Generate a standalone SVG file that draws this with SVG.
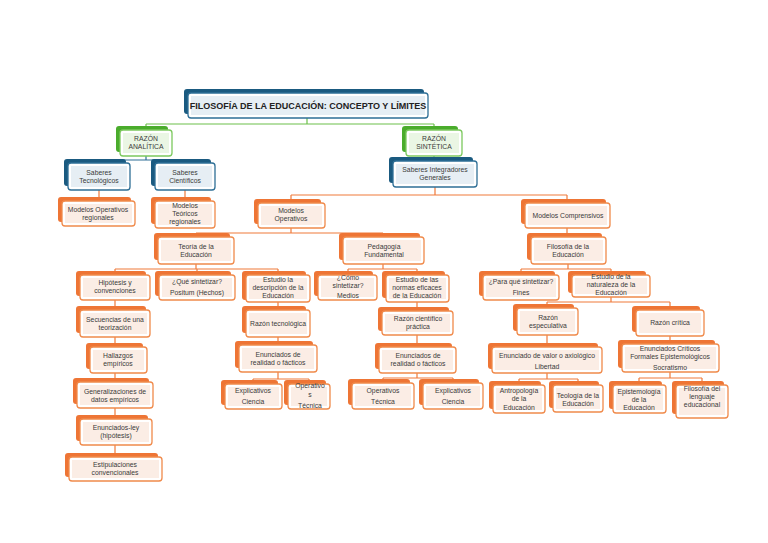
<svg xmlns="http://www.w3.org/2000/svg" width="768" height="543" viewBox="0 0 768 543">
<style>
text{font-family:"Liberation Sans",Arial,sans-serif;font-size:6.8px;fill:#3a3a3a;text-anchor:middle}
.t{font-size:9px;font-weight:bold;fill:#222}
.o .b{fill:#ee7535}.o .f{fill:#fff;stroke:#f08a4b;stroke-width:1.3}.o .i{fill:#fbede5}
.g .b{fill:#4aac2c}.g .f{fill:#fff;stroke:#7cc95e;stroke-width:1.3}.g .i{fill:#eaf6e4}
.u .b{fill:#1a5a80}.u .f{fill:#fff;stroke:#2e6f96;stroke-width:1.3}.u .i{fill:#e6eef4}
.c path{fill:none;stroke-width:1.2}
</style>
<rect width="768" height="543" fill="#fff"/>
<g id="connectors" class="c">
<path stroke="#6cc04a" d="M307 118V124M146 124H434M146 124V130M434 124V130"/>
<path stroke="#2e6f96" d="M146 156V160M99 160H185M99 160V163M185 160V163M434 156V161"/>
<path stroke="#f07a3a" d="M99 190V201M185 190V201M435 187V195M291 195H567M291 195V203M567 195V203
M291 228V233M196 233H383M196 233V237M383 233V237M567 228V237
M196 264V269M115 269H278M115 269V275M197 269V275M278 269V275
M383 264V269M348 269H417M348 269V275M417 269V275
M568 264V269M521 269H611M521 269V275M611 269V275
M115 300V310M115 337V347M115 373V382M115 408V419M115 445V457
M278 300V310M278 337V345M278 372V379M253 379H309M253 379V384M309 379V384
M417 300V311M417 335V347M417 373V378M383 378H453M383 378V383M453 378V383
M611 297V302M547 302H670M547 302V308M670 302V310
M547 335V347M547 373V379M519 379H578M519 379V385M578 379V385
M670 336V344M670 372V378M639 378H702M639 378V385M702 378V385"/>
</g>
<g id="title" class="u"><rect class="b" x="184" y="89" width="240" height="25" rx="3"/><rect class="f" x="188" y="93" width="240" height="25" rx="3"/><rect class="i" x="191" y="96" width="234" height="19"/><text class="t" x="308" y="109">FILOSOFÍA DE LA EDUCACIÓN: CONCEPTO Y LÍMITES</text></g>
<g id="ranalitica" class="g"><rect class="b" x="116" y="126" width="52" height="26" rx="3"/><rect class="f" x="120" y="130" width="52" height="26" rx="3"/><rect class="i" x="123" y="133" width="46" height="20"/><text x="146" y="141">RAZÓN</text><text x="146" y="149">ANALÍTICA</text></g>
<g id="rsintetica" class="g"><rect class="b" x="402" y="126" width="56" height="26" rx="3"/><rect class="f" x="406" y="130" width="56" height="26" rx="3"/><rect class="i" x="409" y="133" width="50" height="20"/><text x="434" y="141">RAZÓN</text><text x="434" y="149">SINTÉTICA</text></g>
<g id="stec" class="u"><rect class="b" x="64" y="159" width="62" height="27" rx="3"/><rect class="f" x="68" y="163" width="62" height="27" rx="3"/><rect class="i" x="71" y="166" width="56" height="21"/><text x="99" y="175">Saberes</text><text x="99" y="183">Tecnológicos</text></g>
<g id="scien" class="u"><rect class="b" x="151" y="159" width="60" height="27" rx="3"/><rect class="f" x="155" y="163" width="60" height="27" rx="3"/><rect class="i" x="158" y="166" width="54" height="21"/><text x="185" y="175">Saberes</text><text x="185" y="183">Científicos</text></g>
<g id="sint" class="u"><rect class="b" x="389" y="157" width="84" height="26" rx="3"/><rect class="f" x="393" y="161" width="84" height="26" rx="3"/><rect class="i" x="396" y="164" width="78" height="20"/><text x="435" y="172">Saberes Integradores</text><text x="435" y="180">Generales</text></g>
<g id="mor" class="o"><rect class="b" x="58" y="197" width="73" height="25" rx="3"/><rect class="f" x="62" y="201" width="73" height="25" rx="3"/><rect class="i" x="65" y="204" width="67" height="19"/><text x="98" y="212">Modelos Operativos</text><text x="98" y="220">regionales</text></g>
<g id="mtr" class="o"><rect class="b" x="151" y="197" width="60" height="27" rx="3"/><rect class="f" x="155" y="201" width="60" height="27" rx="3"/><rect class="i" x="158" y="204" width="54" height="21"/><text x="185" y="208">Modelos</text><text x="185" y="216">Teóricos</text><text x="185" y="224">regionales</text></g>
<g id="mop" class="o"><rect class="b" x="254" y="199" width="67" height="25" rx="3"/><rect class="f" x="258" y="203" width="67" height="25" rx="3"/><rect class="i" x="261" y="206" width="61" height="19"/><text x="291" y="213">Modelos</text><text x="291" y="221">Operativos</text></g>
<g id="mcomp" class="o"><rect class="b" x="521" y="199" width="85" height="25" rx="3"/><rect class="f" x="525" y="203" width="85" height="25" rx="3"/><rect class="i" x="528" y="206" width="79" height="19"/><text x="568" y="218">Modelos Comprensivos</text></g>
<g id="teoria" class="o"><rect class="b" x="154" y="233" width="76" height="27" rx="3"/><rect class="f" x="158" y="237" width="76" height="27" rx="3"/><rect class="i" x="161" y="240" width="70" height="21"/><text x="196" y="249">Teoría de la</text><text x="196" y="257">Educación</text></g>
<g id="pedag" class="o"><rect class="b" x="339" y="233" width="81" height="27" rx="3"/><rect class="f" x="343" y="237" width="81" height="27" rx="3"/><rect class="i" x="346" y="240" width="75" height="21"/><text x="384" y="249">Pedagogía</text><text x="384" y="257">Fundamental</text></g>
<g id="filo" class="o"><rect class="b" x="527" y="233" width="75" height="27" rx="3"/><rect class="f" x="531" y="237" width="75" height="27" rx="3"/><rect class="i" x="534" y="240" width="69" height="21"/><text x="568" y="249">Filosofía de la</text><text x="568" y="257">Educación</text></g>
<g id="hipo" class="o"><rect class="b" x="76" y="271" width="70" height="25" rx="3"/><rect class="f" x="80" y="275" width="70" height="25" rx="3"/><rect class="i" x="83" y="278" width="64" height="19"/><text x="115" y="285">Hipótesis y</text><text x="115" y="293">convenciones</text></g>
<g id="que" class="o"><rect class="b" x="155" y="271" width="76" height="25" rx="3"/><rect class="f" x="159" y="275" width="76" height="25" rx="3"/><rect class="i" x="162" y="278" width="70" height="19"/><text x="197" y="284">¿Qué sintetizar?</text><text x="197" y="295">Positum (Hechos)</text></g>
<g id="edesc" class="o"><rect class="b" x="242" y="271" width="64" height="29" rx="3"/><rect class="f" x="246" y="275" width="64" height="27" rx="3"/><rect class="i" x="249" y="278" width="58" height="21"/><text x="278" y="282">Estudio la</text><text x="278" y="290">descripción de la</text><text x="278" y="298">Educación</text></g>
<g id="como" class="o"><rect class="b" x="314" y="271" width="59" height="25" rx="3"/><rect class="f" x="318" y="275" width="59" height="25" rx="3"/><rect class="i" x="321" y="278" width="53" height="19"/><text x="348" y="280">¿Cómo</text><text x="348" y="288">sintetizar?</text><text x="348" y="298">Medios</text></g>
<g id="enormas" class="o"><rect class="b" x="382" y="271" width="63" height="27" rx="3"/><rect class="f" x="386" y="275" width="63" height="27" rx="3"/><rect class="i" x="389" y="278" width="57" height="21"/><text x="417" y="282">Estudio de las</text><text x="417" y="290">normas eficaces</text><text x="417" y="298">de la Educación</text></g>
<g id="para" class="o"><rect class="b" x="479" y="271" width="76" height="25" rx="3"/><rect class="f" x="483" y="275" width="76" height="25" rx="3"/><rect class="i" x="486" y="278" width="70" height="19"/><text x="521" y="284">¿Para qué sintetizar?</text><text x="521" y="295">Fines</text></g>
<g id="enat" class="o"><rect class="b" x="568" y="271" width="78" height="22" rx="3"/><rect class="f" x="572" y="275" width="78" height="22" rx="3"/><rect class="i" x="575" y="278" width="72" height="16"/><text x="611" y="279">Estudio de la</text><text x="611" y="287">naturaleza de la</text><text x="611" y="295">Educación</text></g>
<g id="secu" class="o"><rect class="b" x="76" y="306" width="70" height="27" rx="3"/><rect class="f" x="80" y="310" width="70" height="27" rx="3"/><rect class="i" x="83" y="313" width="64" height="21"/><text x="115" y="322">Secuencias de una</text><text x="115" y="330">teorización</text></g>
<g id="rtec" class="o"><rect class="b" x="242" y="306" width="64" height="27" rx="3"/><rect class="f" x="246" y="310" width="64" height="27" rx="3"/><rect class="i" x="249" y="313" width="58" height="21"/><text x="278" y="326">Razón tecnológica</text></g>
<g id="rcp" class="o"><rect class="b" x="378" y="307" width="71" height="24" rx="3"/><rect class="f" x="382" y="311" width="71" height="24" rx="3"/><rect class="i" x="385" y="314" width="65" height="18"/><text x="418" y="321">Razón científico</text><text x="418" y="329">práctica</text></g>
<g id="resp" class="o"><rect class="b" x="513" y="304" width="61" height="27" rx="3"/><rect class="f" x="517" y="308" width="61" height="27" rx="3"/><rect class="i" x="520" y="311" width="55" height="21"/><text x="548" y="320">Razón</text><text x="548" y="328">especulativa</text></g>
<g id="rcrit" class="o"><rect class="b" x="632" y="306" width="68" height="26" rx="3"/><rect class="f" x="636" y="310" width="68" height="26" rx="3"/><rect class="i" x="639" y="313" width="62" height="20"/><text x="670" y="325">Razón crítica</text></g>
<g id="hall" class="o"><rect class="b" x="86" y="343" width="57" height="26" rx="3"/><rect class="f" x="90" y="347" width="57" height="26" rx="3"/><rect class="i" x="93" y="350" width="51" height="20"/><text x="118" y="358">Hallazgos</text><text x="118" y="366">empíricos</text></g>
<g id="ereal1" class="o"><rect class="b" x="235" y="341" width="78" height="27" rx="3"/><rect class="f" x="239" y="345" width="78" height="27" rx="3"/><rect class="i" x="242" y="348" width="72" height="21"/><text x="278" y="357">Enunciados de</text><text x="278" y="365">realidad o fácticos</text></g>
<g id="ereal2" class="o"><rect class="b" x="375" y="343" width="77" height="26" rx="3"/><rect class="f" x="379" y="347" width="77" height="26" rx="3"/><rect class="i" x="382" y="350" width="71" height="20"/><text x="418" y="358">Enunciados de</text><text x="418" y="366">realidad o fácticos</text></g>
<g id="evalor" class="o"><rect class="b" x="488" y="343" width="110" height="26" rx="3"/><rect class="f" x="492" y="347" width="110" height="26" rx="3"/><rect class="i" x="495" y="350" width="104" height="20"/><text x="547" y="358">Enunciado de valor o axiológico</text><text x="547" y="369">Libertad</text></g>
<g id="ecrit" class="o"><rect class="b" x="618" y="340" width="97" height="28" rx="3"/><rect class="f" x="622" y="344" width="97" height="28" rx="3"/><rect class="i" x="625" y="347" width="91" height="22"/><text x="670" y="351">Enunciados Críticos</text><text x="670" y="359">Formales Epistemológicos</text><text x="670" y="370">Socratismo</text></g>
<g id="gen" class="o"><rect class="b" x="73" y="378" width="76" height="26" rx="3"/><rect class="f" x="77" y="382" width="76" height="26" rx="3"/><rect class="i" x="80" y="385" width="70" height="20"/><text x="115" y="394">Generalizaciones de</text><text x="115" y="402">datos empíricos</text></g>
<g id="expl1" class="o"><rect class="b" x="221" y="380" width="57" height="25" rx="3"/><rect class="f" x="225" y="384" width="57" height="25" rx="3"/><rect class="i" x="228" y="387" width="51" height="19"/><text x="253" y="393">Explicativos</text><text x="253" y="404">Ciencia</text></g>
<g id="oper1" class="o"><rect class="b" x="284" y="380" width="42" height="25" rx="3"/><rect class="f" x="288" y="384" width="42" height="25" rx="3"/><rect class="i" x="291" y="387" width="36" height="19"/><text x="310" y="388">Operativo</text><text x="310" y="397">s</text><text x="310" y="408">Técnica</text></g>
<g id="oper2" class="o"><rect class="b" x="348" y="379" width="62" height="26" rx="3"/><rect class="f" x="352" y="383" width="62" height="26" rx="3"/><rect class="i" x="355" y="386" width="56" height="20"/><text x="383" y="393">Operativos</text><text x="383" y="404">Técnica</text></g>
<g id="expl2" class="o"><rect class="b" x="419" y="379" width="60" height="26" rx="3"/><rect class="f" x="423" y="383" width="60" height="26" rx="3"/><rect class="i" x="426" y="386" width="54" height="20"/><text x="453" y="393">Explicativos</text><text x="453" y="404">Ciencia</text></g>
<g id="antro" class="o"><rect class="b" x="489" y="381" width="52" height="28" rx="3"/><rect class="f" x="493" y="385" width="52" height="28" rx="3"/><rect class="i" x="496" y="388" width="46" height="22"/><text x="519" y="393">Antropología</text><text x="519" y="401">de la</text><text x="519" y="410">Educación</text></g>
<g id="teol" class="o"><rect class="b" x="549" y="381" width="50" height="27" rx="3"/><rect class="f" x="553" y="385" width="50" height="27" rx="3"/><rect class="i" x="556" y="388" width="44" height="21"/><text x="578" y="398">Teología de la</text><text x="578" y="406">Educación</text></g>
<g id="epis" class="o"><rect class="b" x="609" y="381" width="53" height="28" rx="3"/><rect class="f" x="613" y="385" width="53" height="28" rx="3"/><rect class="i" x="616" y="388" width="47" height="22"/><text x="639" y="394">Epistemología</text><text x="639" y="402">de la</text><text x="639" y="410">Educación</text></g>
<g id="flen" class="o"><rect class="b" x="672" y="381" width="52" height="33" rx="3"/><rect class="f" x="676" y="385" width="52" height="33" rx="3"/><rect class="i" x="679" y="388" width="46" height="27"/><text x="702" y="391">Filosofía del</text><text x="702" y="399">lenguaje</text><text x="702" y="407">educacional</text></g>
<g id="eley" class="o"><rect class="b" x="76" y="415" width="72" height="26" rx="3"/><rect class="f" x="80" y="419" width="72" height="26" rx="3"/><rect class="i" x="83" y="422" width="66" height="20"/><text x="116" y="430">Enunciados-ley</text><text x="116" y="438">(hipótesis)</text></g>
<g id="estip" class="o"><rect class="b" x="65" y="453" width="93" height="24" rx="3"/><rect class="f" x="69" y="457" width="93" height="24" rx="3"/><rect class="i" x="72" y="460" width="87" height="18"/><text x="115" y="467">Estipulaciones</text><text x="115" y="475">convencionales</text></g>
</svg>
